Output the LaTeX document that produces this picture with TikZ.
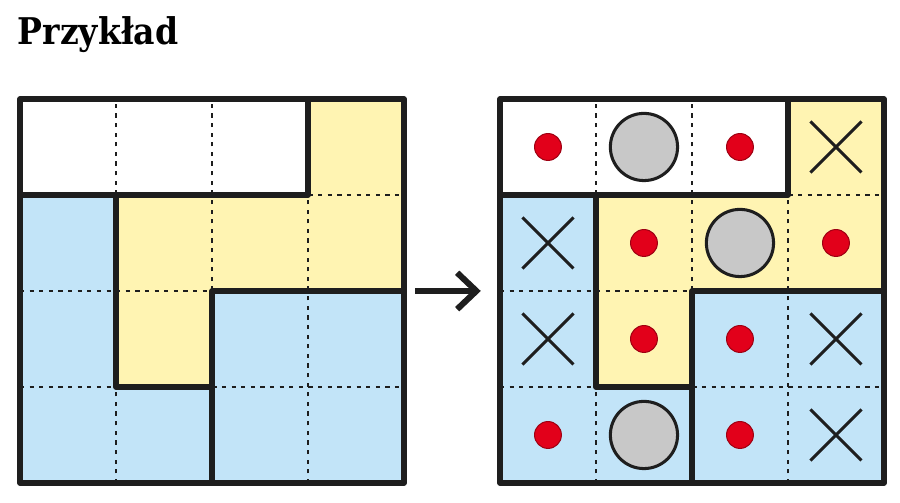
\documentclass[tikz,border=0pt]{standalone}
\usepackage{fontspec}
\newfontfamily\titlefont{DejaVu Serif Condensed}
\usetikzlibrary{
  arrows.meta,
  shapes.misc
}
\definecolor{puzYellow}{RGB}{255,244,178}
\definecolor{puzBlue}{RGB}{194,228,248}
\definecolor{puzRed}{RGB}{226,0,26}
\definecolor{puzGray}{RGB}{200,200,200}
\definecolor{puzLine}{RGB}{30,30,30}
\tikzset{
  regionline/.style={
    draw=puzLine,
    line width=1.6pt,
    line join=round,
    line cap=round
  },
  cellline/.style={
    draw=puzLine,
    line width=0.75pt,
    dash pattern=on 1.25pt off 1.6pt
  },
  dotmark/.style={
    circle,
    draw=puzRed!70!black,
    line width=0.3pt,
    fill=puzRed,
    minimum size=0.28cm,
    inner sep=0pt
  },
  stonemark/.style={
    circle,
    draw=puzLine,
    line width=0.9pt,
    fill=puzGray,
    minimum size=0.7cm,
    inner sep=0pt
  },
  crossmark/.style={
    cross out,
    draw=puzLine,
    line width=0.9pt,
    minimum size=0.5cm,
    inner sep=0pt
  },
  bigarrow/.style={
    -{Straight Barb[length=0.2cm,width=0.38cm]},
    line width=1.8pt,
    draw=puzLine
  }
}

\begin{document}
\begin{tikzpicture}
  \useasboundingbox (-0.208,-0.208) rectangle (9.167,5.031);

  \node[anchor=base west, inner sep=0pt, font=\titlefont\bfseries\fontsize{10.9}{12}\selectfont] (title)
    at (-0.03,4.57) {Przykład};

  \foreach \ox in {0,5} {
    \begin{scope}[shift={(\ox,0)}]
      \fill[white] (0,3) rectangle (3,4);
      \fill[puzYellow] (3,4) -- (4,4) -- (4,2) -- (2,2) -- (2,1) -- (1,1) -- (1,3) -- (3,3) -- cycle;
      \fill[puzBlue] (0,0) -- (0,3) -- (1,3) -- (1,1) -- (2,1) -- (2,0) -- cycle;
      \fill[puzBlue] (2,0) rectangle (4,2);
      \foreach \i in {1,2,3} {
        \draw[cellline] (\i,0) -- (\i,4);
        \draw[cellline] (0,\i) -- (4,\i);
      }
      \draw[regionline] (0,3) -- (3,3) -- (3,4);
      \draw[regionline] (1,3) -- (1,1) -- (2,1) -- (2,2) -- (4,2);
      \draw[regionline] (2,0) -- (2,1);
      \draw[regionline] (0,0) rectangle (4,4);
    \end{scope}
  }

  \coordinate (arrowstart) at (4.12,2);
  \coordinate (arrowend) at (4.8,2);
  \draw[bigarrow] (arrowstart) -- (arrowend);

  % markers in the solved grid: column/row, row 0 on top
  \foreach \c/\r in {0/0,2/0,1/1,3/1,1/2,2/2,0/3,2/3}
    \node[dotmark] (dot-\c-\r) at (5.5+\c,3.5-\r) {};
  \foreach \c/\r in {1/0,2/1,1/3}
    \node[stonemark] (stone-\c-\r) at (5.5+\c,3.5-\r) {};
  \foreach \c/\r in {3/0,0/1,0/2,3/2,3/3}
    \node[crossmark] (cross-\c-\r) at (5.5+\c,3.5-\r) {};
\end{tikzpicture}
\end{document}
